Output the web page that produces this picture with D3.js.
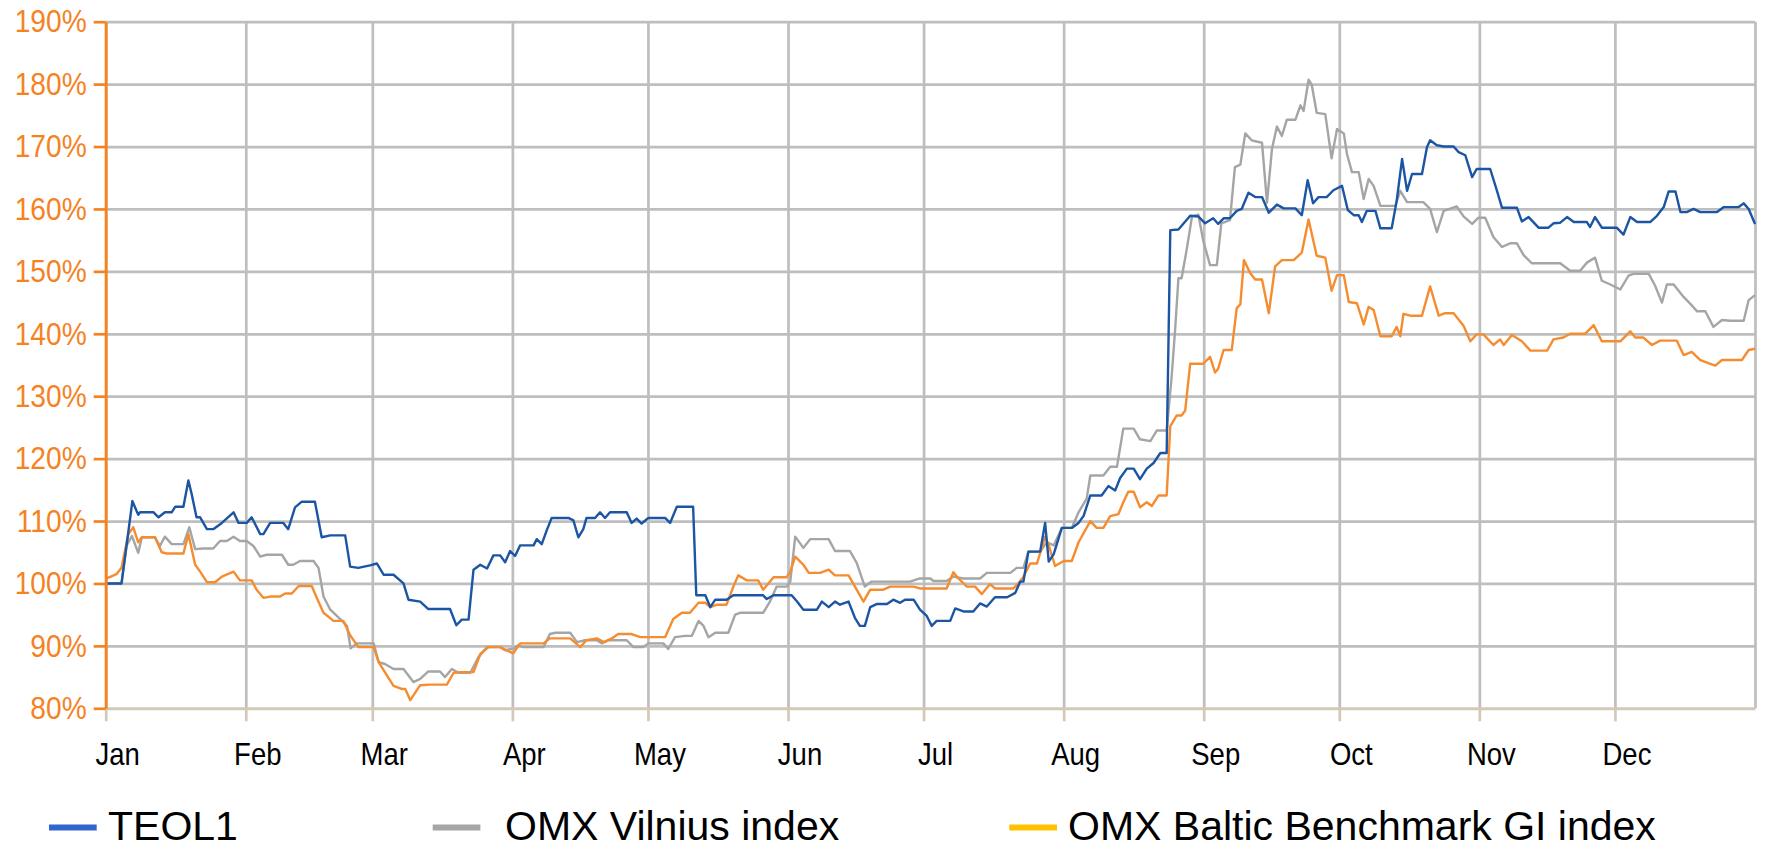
<!DOCTYPE html>
<html>
<head>
<meta charset="utf-8">
<script src="https://cdn.jsdelivr.net/npm/d3@7"></script>
<style>
  body { margin: 0; background: #fff; }
  svg { display: block; }
  text { font-family: "Liberation Sans", Arial, sans-serif; }
</style>
</head>
<body>
<div id="chart"></div>
<script>
// series names (legend order) and axis labels
const seriesNames = ["TEOL1", "OMX Vilnius index", "OMX Baltic Benchmark GI index"];
const monthLabels = ["Jan", "Feb", "Mar", "Apr", "May", "Jun", "Jul", "Aug", "Sep", "Oct", "Nov", "Dec"];
const yTicks = [80, 90, 100, 110, 120, 130, 140, 150, 160, 170, 180, 190];

// [day of year, % of start value]
const teol = [
  [0.2,100],[3.5,100],[4.6,106],[5.9,113.2],[7.2,111],[7.6,111.4],[10.6,111.4],[11.7,110.6],[13.1,111.4],[14.6,111.4],
  [15.4,112.3],[17.2,112.3],[18.3,116.5],[19.0,114.4],[20.1,110.6],[20.9,110.6],[22.4,108.7],[23.8,108.7],[25.7,109.7],
  [28.3,111.4],[29.4,109.7],[31.2,109.7],[32.3,110.6],[34.2,107.9],[34.9,107.9],[36.4,109.7],[39.3,109.7],[40.4,108.7],
  [41.9,112.2],[43.4,113.1],[46.3,113.1],[47.8,107.4],[49.7,107.7],[53.0,107.7],[54.1,102.7],[55.9,102.5],[58.5,102.9],
  [60.0,103.2],[61.5,101.4],[63.7,101.4],[65.9,100],[67.0,97.4],[69.6,97.1],[71.4,95.9],[76.2,95.9],[77.6,93.3],
  [78.8,94.2],[80.3,94.2],[81.4,102.2],[82.9,103],[84.4,102.4],[85.8,104.5],[87.3,104.5],[88.4,103.4],[89.5,105.2],
  [90.6,104.4],[91.7,106.1],[94.7,106.1],[95.4,107.1],[96.5,106.3],[97.6,108.5],[98.7,110.5],[102.4,110.5],[103.5,110.1],
  [104.6,107.4],[105.7,108.7],[106.4,110.5],[108.3,110.5],[109.4,111.4],[110.5,110.5],[111.6,111.4],[115.3,111.4],
  [116.4,109.7],[117.5,110.4],[118.6,109.6],[120.1,110.5],[123.8,110.5],[124.9,109.7],[126.4,112.3],[130.0,112.3],
  [130.7,98.1],[132.7,98.1],[133.8,96.2],[134.9,97.4],[137.4,97.4],[138.9,98.1],[145.5,98.1],[146.3,97.5],[147.8,98.1],
  [151.8,98.1],[153.0,97.1],[154.4,95.8],[157.4,95.8],[158.5,97.1],[160.0,96.2],[161.4,97.1],[162.5,96.6],[164.4,97.1],
  [165.8,94.5],[166.9,93.2],[168.0,93.2],[169.2,96.2],[170.6,96.7],[172.9,96.7],[174.3,97.4],[175.8,96.9],[176.9,97.4],
  [178.8,97.4],[180.2,95.8],[181.7,94.8],[182.8,93.2],[183.9,94],[186.9,94],[188,96],[190,95.5],[192,95.5],[193.5,96.8],
  [195,96.3],[196.8,97.8],[199.5,97.8],[201.3,98.5],[202.4,100.3],[203.1,100.3],[204.2,105.1],[206.8,105.1],[207.9,109.7],
  [208.7,103.5],[209.8,104.7],[211.6,108.9],[213.8,108.9],[215.3,109.7],[216.4,110.8],[217.9,114.1],[220.4,114.1],
  [221.9,115.6],[223.4,114.9],[224.5,116.9],[226.0,118.4],[227.5,118.4],[228.9,116.7],[230.4,118.4],[231.9,119.3],
  [233.4,120.9],[234.8,120.9],[235.6,156.6],[237.4,156.7],[240.0,158.9],[241.8,158.8],[243.3,157.7],[245.1,158.5],
  [246.2,157.6],[247.4,158.5],[248.8,158.5],[250.3,159.7],[251.4,160],[252.9,162.6],[254.4,161.9],[255.9,161.9],
  [257.4,159.4],[259.2,160.7],[260.7,160.1],[263.3,160.1],[264.7,159],[266.0,164.6],[267.2,160.9],[268.4,161.9],
  [270.2,161.9],[271.7,163],[273.6,163.7],[274.9,159.8],[276.2,159],[277.3,159],[278.0,157.9],[279.1,159.7],[281.0,159.7],
  [282.1,156.9],[284.6,156.9],[285.7,161.3],[286.9,168],[288.0,162.9],[289.1,165.6],[291.3,165.6],[292.4,169.9],
  [293.1,171],[294.6,170.2],[296.1,170],[298.3,170],[299.4,169.1],[300.9,168.6],[302.4,165.1],[303.4,166.4],[306.4,166.4],
  [307.9,162.9],[309.0,160.2],[312.3,160.2],[313.4,158],[314.9,158.7],[317.1,157],[319.3,157],[320.4,157.7],[321.9,157.8],
  [323.4,158.7],[324.9,157.9],[327.8,157.9],[328.5,157.1],[329.6,158.7],[331.1,157],[334.4,157],[335.9,155.9],
  [337.4,158.7],[338.9,157.9],[341.8,157.9],[343.3,158.9],[344.8,160.3],[345.9,162.8],[347.4,162.8],[348.5,159.5],
  [349.9,159.5],[351.4,160],[352.9,159.5],[356.6,159.5],[358.1,160.3],[361.4,160.3],[362.5,160.9],[363.6,160],[365.0,157.6]
];

const vilnius = [
  [0.2,100],[3.5,100],[4.6,106],[5.8,107.6],[7.2,104.9],[8.0,107.4],[10.9,107.4],[12.0,106],[13.1,107.5],[14.6,106.3],
  [17.2,106.3],[18.5,109],[19.8,105.5],[21.6,105.6],[23.8,105.6],[25.3,106.8],[26.8,106.8],[28.3,107.5],[29.7,106.8],
  [31.2,106.8],[32.7,106],[34.2,104.3],[35.6,104.6],[39.0,104.6],[40.4,103],[41.5,103],[43.0,103.6],[46.0,103.6],
  [47.1,102.5],[48.2,97.9],[49.7,95.8],[51.9,94.3],[53.4,93.2],[54.2,89.6],[55.6,90.4],[59.3,90.4],[60.4,87.4],
  [61.8,87.1],[63.7,86.3],[65.9,86.3],[68.1,84.2],[69.6,84.7],[71.4,85.9],[74.0,85.9],[75.1,85],[76.6,86.3],[78.1,85.7],
  [80.7,85.7],[82.5,88.2],[84.4,89.8],[87.3,89.8],[88.4,89.3],[90.3,89.6],[91.3,90.1],[92.4,89.8],[96.9,89.8],
  [98.3,91.9],[99.5,92.1],[102.8,92.1],[104.3,90.6],[106.1,90.9],[108.7,90.9],[109.8,90.4],[111.3,90.9],[115.3,90.9],
  [116.8,89.8],[118.9,89.8],[120.1,90.4],[123.4,90.4],[124.5,89.5],[126.0,91.4],[128.2,91.6],[129.7,91.6],[131.2,94],
  [132.3,93.2],[133.4,91.4],[134.9,92.1],[137.8,92.1],[139.3,95],[140.4,95.3],[145.5,95.3],[147.0,97.1],[148.5,99.5],
  [150.7,99.5],[151.5,100.3],[152.6,107.5],[154.4,105.7],[155.9,107.1],[160.0,107.1],[161.4,105.2],[164.7,105.2],
  [166.2,103.3],[168.0,99.5],[169.5,100.3],[178.0,100.3],[180.2,100.8],[182.5,100.8],[183.2,100.4],[186.1,100.4],
  [187.6,101.1],[189.8,100.8],[193.5,100.8],[195.0,101.7],[200.2,101.7],[201.6,102.5],[203.1,102.5],[204.2,105.1],
  [206.8,105.1],[208.3,106.6],[209.8,106.1],[211.6,108.9],[213.8,108.9],[215.3,111.4],[217.1,113.6],[217.9,117.3],
  [220.8,117.3],[222.3,118.7],[223.8,118.7],[225.2,124.8],[227.5,124.8],[228.9,123.1],[231.2,122.8],[232.6,124.5],
  [234.8,124.5],[235.9,133.1],[236.7,141],[237.4,148.9],[238.1,148.9],[239.3,153.8],[240.4,158.8],[241.8,159.1],
  [242.9,154.9],[244.4,151],[245.9,151],[246.9,157.7],[248.8,158.2],[249.9,166.7],[251.1,167.1],[252.2,172.1],
  [253.6,171],[255.9,170.6],[257.0,161],[258.1,169.6],[259.2,173.2],[260.3,171.7],[261.4,174.3],[263.3,174.3],
  [264.4,176.6],[265.1,175.7],[266.2,180.7],[266.9,179.9],[268.0,175.4],[269.9,175.2],[271.3,168.1],[272.5,172.8],
  [274.0,172.1],[274.7,168.8],[275.8,165.9],[277.3,165.9],[278.4,161.6],[279.5,164.8],[280.6,163.7],[282.1,160.5],
  [285.4,160.5],[286.5,162.9],[288.0,161.1],[291.6,161.1],[293.1,160],[294.6,156.3],[296.1,159.7],[299.0,160.4],
  [300.5,158.8],[302.4,157.6],[303.8,158.6],[305.3,158.6],[307.1,155.5],[309.0,153.9],[310.8,154.5],[312.3,154.5],
  [313.8,152.6],[315.6,151.3],[321.9,151.3],[324.1,150.1],[326.3,150.1],[327.8,151.4],[329.6,152.2],[331.1,148.5],
  [333.0,147.9],[335.2,147.1],[337.0,149.3],[338.1,149.6],[341.5,149.6],[342.9,147.7],[344.4,145],[345.5,147.9],
  [347.0,147.9],[349.2,145.9],[350.7,144.8],[352.2,143.6],[354.0,143.6],[355.8,141.1],[357.7,142.2],[359.5,142.1],
  [362.5,142.1],[363.6,145.4],[365.0,146.2]
];

const baltic = [
  [0.2,100.8],[2.4,101.5],[3.5,102.5],[5.0,107.9],[6.1,109],[7.2,106.6],[8.0,107.4],[10.9,107.4],[12.4,105],[13.5,104.8],
  [17.2,104.8],[18.3,107.9],[19.8,103],[20.9,101.9],[22.4,100.2],[24.2,100.2],[25.7,101.1],[28.3,101.9],[29.7,100.5],
  [32.3,100.5],[33.4,99],[34.9,97.7],[36.4,97.9],[38.6,97.9],[39.7,98.4],[41.2,98.4],[42.7,99.6],[45.6,99.6],[46.7,97.7],
  [48.2,95.3],[50.4,94],[52.6,94],[54.1,91.7],[55.9,89.8],[59.3,89.8],[60.4,87.4],[62.2,85.3],[63.7,83.6],[65.5,83.1],
  [66.3,83.1],[67.4,81.3],[68.5,82.5],[69.6,83.7],[71.8,83.8],[75.5,83.8],[77.0,85.7],[78.8,85.8],[81.4,85.8],[82.9,88.7],
  [84.7,89.8],[87.3,89.8],[88.7,89.3],[90.2,88.8],[91.7,90.4],[96.9,90.4],[98.3,91.2],[102.8,91.2],[105.0,89.8],
  [106.4,90.9],[108.7,91.2],[110.2,90.6],[112.0,91.2],[113.4,91.9],[116.4,91.9],[118.3,91.4],[123.8,91.4],[125.6,94.3],
  [127.5,95.3],[129.3,95.3],[131.2,96.9],[132.7,96.9],[133.8,96.2],[135.3,96.6],[137.4,96.6],[138.9,99.5],[140.0,101.3],
  [141.9,100.5],[144.4,100.5],[145.5,99],[147.8,101],[150.7,101],[151.5,101.9],[152.6,104.3],[154.4,103],[155.6,101.7],
  [158.1,101.7],[160.0,102.2],[161.4,101.3],[164.4,101.3],[166.2,99],[167.7,97.1],[169.2,99],[172.1,99],[173.6,99.5],
  [178.8,99.5],[180.2,99.2],[186.1,99.2],[187.6,101.8],[188.7,100.8],[190.6,99.5],[192.4,99.5],[193.9,98.3],[195.7,99.9],
  [196.8,99.2],[200.9,99.2],[202.0,100],[203.1,101.1],[204.6,103.2],[206.1,103.2],[207.9,107.5],[208.7,106.1],
  [210.1,102.8],[212.0,103.6],[213.8,103.6],[215.3,106.6],[217.9,110],[219.3,108.9],[220.8,108.9],[222.3,110.8],
  [224.1,111.1],[225.2,113],[226.3,114.7],[227.5,114.7],[228.9,112.2],[230.4,113],[231.5,112.4],[233.0,114.1],
  [234.8,114.1],[235.6,125.2],[237.0,126.9],[238.1,126.9],[238.9,127.7],[240.0,135.2],[242.9,135.2],[244.4,136.3],
  [245.5,133.8],[246.2,134.4],[247.4,137.4],[249.2,137.4],[250.3,144.1],[251.1,144.7],[251.9,151.8],[253.3,149.7],
  [254.4,148.7],[255.9,148.7],[257.4,143.3],[258.8,150.8],[260.3,151.8],[262.9,151.8],[264.7,153],[266.2,158.3],
  [268.0,152.5],[269.9,152.2],[271.3,146.9],[272.5,149.4],[274.0,149.4],[275.1,145.1],[276.9,144.9],[278.4,141.5],
  [279.5,144.3],[280.6,143.8],[282.1,139.6],[284.6,139.6],[285.7,141.1],[286.5,139.6],[287.2,143.2],[288.7,142.9],
  [291.3,142.9],[293.1,147.6],[295.0,142.9],[296.4,143.3],[298.3,143.3],[300.5,141.3],[302.0,138.8],[303.4,139.9],
  [304.9,139.9],[307.1,138.2],[308.6,139.1],[309.4,138.2],[311.2,139.8],[313.4,138.8],[315.3,137.3],[319.0,137.3],
  [320.4,139.1],[322.6,139.4],[324.1,140],[327.4,140],[329.3,141.4],[331.1,138.8],[335.2,138.8],[337.4,140.4],
  [338.5,139.4],[340.3,139.4],[342.2,138.2],[344.0,138.9],[347.7,138.9],[349.2,136.6],[351.0,137.1],[352.9,135.8],
  [356.2,134.9],[357.7,135.8],[362.1,135.8],[363.6,137.4],[365.0,137.6]
];

const W = 1767, H = 849;
const margin = { top: 21.7, right: 12, bottom: 140.7, left: 105.7 };
const width = W - margin.left - margin.right;
const height = H - margin.top - margin.bottom;

const yearStart = Date.UTC(2009, 0, 1);
const yearEnd = Date.UTC(2010, 0, 1);
const toDate = d => new Date(yearStart + d * 864e5);

const x = d3.scaleUtc().domain([yearStart, yearEnd]).range([0, width]);
const y = d3.scaleLinear().domain([80, 190]).range([height, 0]);

const svg = d3.select("#chart").append("svg")
    .attr("width", W)
    .attr("height", H);

const g = svg.append("g")
    .attr("transform", `translate(${margin.left},${margin.top})`);

const gridColor = "#bebebe";
const months = d3.utcMonth.range(new Date(yearStart), new Date(yearEnd));

// horizontal grid
g.append("g")
    .call(d3.axisLeft(y).tickValues(yTicks.slice(1)).tickSize(-width).tickFormat(""))
    .call(a => a.select(".domain").remove())
    .selectAll("line").attr("stroke", gridColor).attr("stroke-width", 2.7);

// vertical grid (Feb..Dec and right edge)
g.append("g")
    .call(d3.axisBottom(x).tickValues(months.slice(1).concat([new Date(yearEnd)])).tickSize(height).tickFormat(""))
    .call(a => a.select(".domain").remove())
    .selectAll("line").attr("stroke", gridColor).attr("stroke-width", 2.7);

// series lines
const line = d3.line()
    .x(d => x(toDate(d[0])))
    .y(d => y(d[1]));

const lineColors = { vilnius: "#a5a5a5", baltic: "#f68c30", teol: "#1b55a3" };
[["vilnius", vilnius], ["baltic", baltic], ["teol", teol]].forEach(([key, data]) => {
    g.append("path")
        .datum(data)
        .attr("fill", "none")
        .attr("stroke", lineColors[key])
        .attr("stroke-width", 2.4)
        .attr("stroke-linejoin", "round")
        .attr("d", line);
});

// x axis
const xAxis = g.append("g")
    .attr("transform", `translate(0,${height})`)
    .call(d3.axisBottom(x).tickValues(months).tickSize(13).tickSizeOuter(0)
        .tickFormat((d, i) => monthLabels[i]));
xAxis.select(".domain").attr("stroke", "#d4c9b9").attr("stroke-width", 3);
xAxis.selectAll(".tick line").attr("stroke", "#d4c9b9").attr("stroke-width", 2.7);
xAxis.selectAll(".tick text")
    .attr("x", 0).attr("y", 34).attr("dy", "0.71em")
    .attr("transform", "translate(11.5,0) scale(0.86,1)")
    .attr("fill", "#000")
    .style("font-size", "32px");

// y axis
const axisOrange = "#f5821f";
const yAxis = g.append("g")
    .call(d3.axisLeft(y).tickValues(yTicks).tickSize(12).tickSizeOuter(0).tickFormat(d => d + "%"));
yAxis.select(".domain").attr("stroke", axisOrange).attr("stroke-width", 3);
yAxis.selectAll(".tick line").attr("stroke", axisOrange).attr("stroke-width", 2.7);
yAxis.selectAll(".tick text")
    .attr("x", 0)
    .attr("transform", "translate(-19,0) scale(0.88,1)")
    .attr("fill", axisOrange)
    .style("font-size", "32px");

// legend (kept just inside the bottom edge)
const legendColors = ["#3366cc", "#a6a6a6", "#ffc000"];
const legendSwatchX = [49, 432.7, 1009.3];
const legendTextX = [108, 505, 1068];
const legendBaseline = 839.5;
const legend = svg.append("g");
seriesNames.forEach((name, i) => {
    legend.append("line")
        .attr("x1", legendSwatchX[i]).attr("x2", legendSwatchX[i] + 47.7)
        .attr("y1", legendBaseline - 12).attr("y2", legendBaseline - 12)
        .attr("stroke", legendColors[i])
        .attr("stroke-width", 6);
    legend.append("text")
        .attr("x", legendTextX[i])
        .attr("y", legendBaseline)
        .attr("fill", "#000")
        .style("font-size", "41px")
        .text(name);
});
</script>
</body>
</html>
